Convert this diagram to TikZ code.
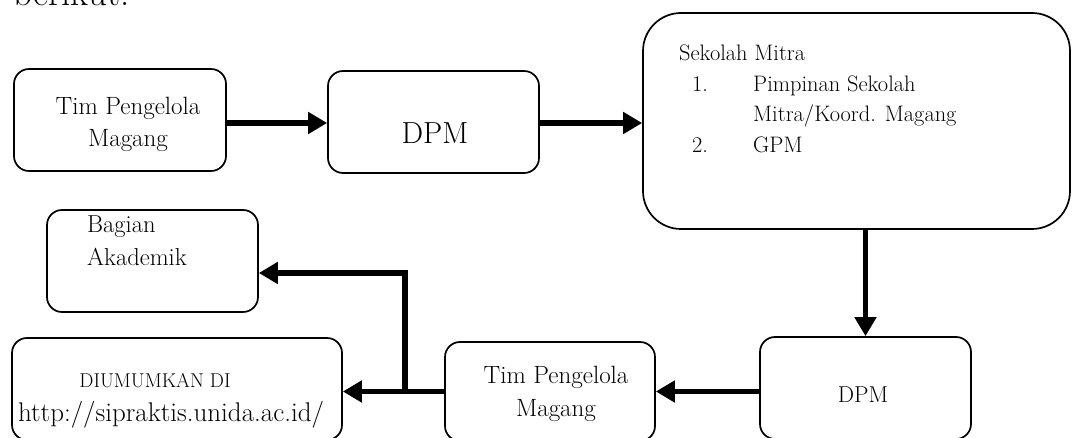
\documentclass[tikz,border=0pt]{standalone}
\usetikzlibrary{arrows.meta}
\newcommand{\myfs}[1]{\fontsize{#1}{#1}\selectfont}
\tikzset{
  box/.style={draw=black, line width=1.7pt, rounded corners=15pt, inner sep=0pt, rectangle},
  arr/.style={line width=5.5pt, line join=miter, -{Triangle[length=19pt,width=21pt]}},
  lbl/.style={inner sep=0pt, text=black},
}
\begin{document}
\begin{tikzpicture}[x=1pt,y=-1pt]
\useasboundingbox (0,0) rectangle (1072,438);
% leftover page text
\node[lbl, anchor=base west, font=\myfs{37}] (ber) at (13,6) {berikut.};
% boxes
\node[box, minimum width=212pt, minimum height=102pt] (A) at (120,120) {};
\node[box, minimum width=211pt, minimum height=102pt] (B) at (433.5,122) {};
\node[box, rounded corners=38pt, minimum width=427pt, minimum height=216pt] (C) at (856.5,121) {};
\node[box, minimum width=211pt, minimum height=102pt] (D) at (865.5,388) {};
\node[box, minimum width=210pt, minimum height=99pt] (E) at (550,391.5) {};
\node[box, minimum width=330pt, minimum height=102pt] (F) at (177,389) {};
\node[box, minimum width=211pt, minimum height=102pt] (G) at (152.5,261) {};
% texts
\node[lbl, anchor=base, font=\myfs{25}] (a1) at (128,115) {Tim Pengelola};
\node[lbl, anchor=base, font=\myfs{25}] (a2) at (128,147) {Magang};
\node[lbl, anchor=base, font=\myfs{30.5}] (b1) at (435,144) {DPM};
\node[lbl, anchor=base west, font=\myfs{22.4}] (c0) at (679,61) {Sekolah Mitra};
\node[lbl, anchor=base west, font=\myfs{22.4}] (c1n) at (692,92) {1.};
\node[lbl, anchor=base west, font=\myfs{22.4}] (c1) at (753,92) {Pimpinan Sekolah};
\node[lbl, anchor=base west, font=\myfs{22.4}] (c1b) at (753,122) {Mitra/Koord. Magang};
\node[lbl, anchor=base west, font=\myfs{22.4}] (c2n) at (692,153) {2.};
\node[lbl, anchor=base west, font=\myfs{22.4}] (c2) at (753,153) {GPM};
\node[lbl, anchor=base, font=\myfs{23}] (d1) at (863,403) {DPM};
\node[lbl, anchor=base, font=\myfs{25}] (e1) at (556,384) {Tim Pengelola};
\node[lbl, anchor=base, font=\myfs{25}] (e2) at (556,417) {Magang};
\node[lbl, anchor=base, font=\myfs{20}] (f1) at (155,388) {DIUMUMKAN DI};
\node[lbl, anchor=base, font=\myfs{27}] (f2) at (171,422) {http://sipraktis.unida.ac.id/};
\node[lbl, anchor=base west, font=\myfs{24.5}] (g1) at (87,233) {Bagian};
\node[lbl, anchor=base west, font=\myfs{24.5}] (g2) at (87,266) {Akademik};
% connectors
\draw[arr] ([yshift=-3pt]A.east) -- ([yshift=-3pt]A.east -| B.west);
\draw[arr] ([yshift=-1pt]B.east) -- ([yshift=-1pt]B.east -| C.west);
\draw[arr] (D.north |- C.south) -- (D.north);
\draw[arr] (D.west |- E.east) -- (E.east);
\draw[arr] (E.west) -- (E.west -| F.east);
\coordinate (J) at (405,391.5);
\coordinate (K) at (405,273);
\draw[arr] (J) -- (K) -- (K -| G.east);
\end{tikzpicture}
\end{document}
